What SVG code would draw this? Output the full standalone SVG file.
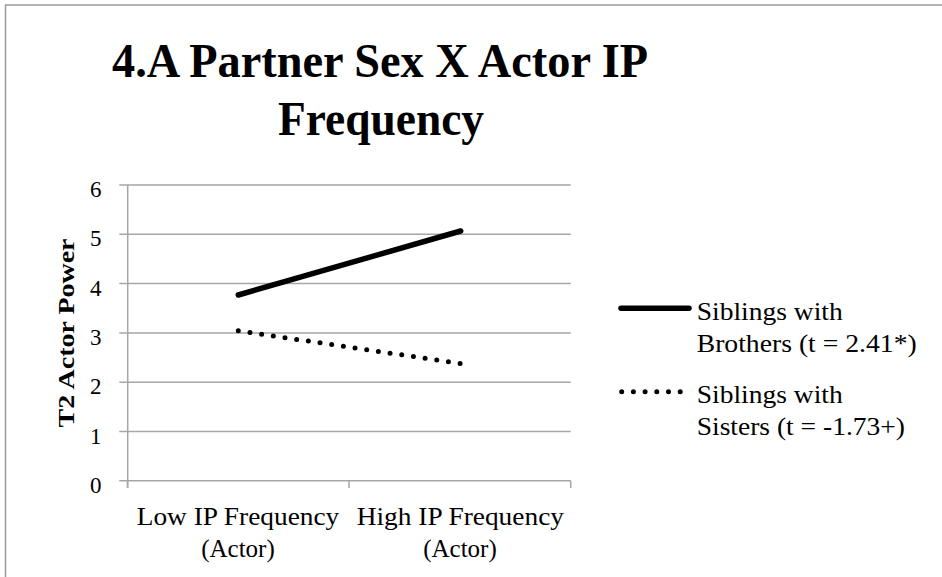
<svg xmlns="http://www.w3.org/2000/svg" width="942" height="577" viewBox="0 0 942 577">
  <style>
    .frame { fill: #ffffff; stroke: #9a9a9a; stroke-width: 1.5; }
    .grid { stroke: #a6a6a6; stroke-width: 1.5; fill: none; }
    .axis { stroke: #a6a6a6; stroke-width: 1.5; fill: none; }
    .title { font-family: "Liberation Serif", "DejaVu Serif", serif; font-weight: bold; font-size: 48px; fill: #000; }
    .ytitle { font-family: "Liberation Serif", "DejaVu Serif", serif; font-weight: bold; font-size: 24px; fill: #000; }
    .tick { font-family: "Liberation Serif", "DejaVu Serif", serif; font-size: 23px; fill: #000; }
    .cat { font-family: "Liberation Serif", "DejaVu Serif", serif; font-size: 25px; fill: #000; }
    .leg { font-family: "Liberation Serif", "DejaVu Serif", serif; font-size: 25px; fill: #000; }
    .solid { stroke: #000; stroke-width: 5.5; stroke-linecap: round; fill: none; }
    .dotted { stroke: #000; stroke-width: 5; stroke-linecap: round; stroke-dasharray: 0 11.8; fill: none; }
  </style>

  <!-- chart area -->
  <rect width="942" height="577" fill="#ffffff"/>
  <rect class="frame" x="5.5" y="5" width="960" height="600"/>

  <!-- chart title -->
  <g id="chart-title">
    <text class="title" x="112" y="77" textLength="536" lengthAdjust="spacingAndGlyphs">4.A Partner Sex X Actor IP</text>
    <text class="title" x="278" y="135" textLength="206" lengthAdjust="spacingAndGlyphs">Frequency</text>
  </g>

  <!-- horizontal gridlines and value axis -->
  <g id="value-axis">
    <line class="grid" x1="119.3" y1="185" x2="570.7" y2="185"/>
    <line class="grid" x1="119.3" y1="234.3" x2="570.7" y2="234.3"/>
    <line class="grid" x1="119.3" y1="283.6" x2="570.7" y2="283.6"/>
    <line class="grid" x1="119.3" y1="332.9" x2="570.7" y2="332.9"/>
    <line class="grid" x1="119.3" y1="382.2" x2="570.7" y2="382.2"/>
    <line class="grid" x1="119.3" y1="431.5" x2="570.7" y2="431.5"/>
    <line class="axis" x1="127.7" y1="185" x2="127.7" y2="488"/>
    <text class="tick" text-anchor="end" x="101.5" y="197">6</text>
    <text class="tick" text-anchor="end" x="101.5" y="246.3">5</text>
    <text class="tick" text-anchor="end" x="101.5" y="295.6">4</text>
    <text class="tick" text-anchor="end" x="101.5" y="344.9">3</text>
    <text class="tick" text-anchor="end" x="101.5" y="394.2">2</text>
    <text class="tick" text-anchor="end" x="101.5" y="443.5">1</text>
    <text class="tick" text-anchor="end" x="101.5" y="492.8">0</text>
    <text class="ytitle" transform="translate(73.5 333) rotate(-90)" text-anchor="middle" textLength="189" lengthAdjust="spacingAndGlyphs">T2 Actor Power</text>
  </g>

  <!-- category axis -->
  <g id="category-axis">
    <line class="axis" x1="119.3" y1="480.8" x2="570.7" y2="480.8"/>
    <line class="axis" x1="127.5" y1="480.8" x2="127.5" y2="488"/>
    <line class="axis" x1="349" y1="480.8" x2="349" y2="488"/>
    <line class="axis" x1="570.7" y1="480.8" x2="570.7" y2="488"/>
    <text class="cat" x="136.7" y="525" textLength="202.6" lengthAdjust="spacingAndGlyphs">Low IP Frequency</text>
    <text class="cat" x="238" y="557" text-anchor="middle">(Actor)</text>
    <text class="cat" x="356.7" y="525" textLength="207.3" lengthAdjust="spacingAndGlyphs">High IP Frequency</text>
    <text class="cat" x="460" y="557" text-anchor="middle">(Actor)</text>
  </g>

  <!-- data series -->
  <g id="connectors">
    <line id="series-brothers" class="solid" x1="238.3" y1="295" x2="460.7" y2="231"/>
    <line id="series-sisters" class="dotted" x1="238.3" y1="330.8" x2="460.3" y2="363.5"/>
  </g>

  <!-- legend -->
  <g id="legend-brothers">
    <line class="solid" x1="621" y1="308.3" x2="689" y2="308.3"/>
    <text class="leg" x="696.7" y="320" textLength="146" lengthAdjust="spacingAndGlyphs">Siblings with</text>
    <text class="leg" x="696.7" y="351.7" textLength="220" lengthAdjust="spacingAndGlyphs">Brothers (t = 2.41*)</text>
  </g>
  <g id="legend-sisters">
    <line class="dotted" x1="621.7" y1="391.7" x2="681" y2="391.7" style="stroke-dasharray: 0 11.7"/>
    <text class="leg" x="696.7" y="403.3" textLength="146" lengthAdjust="spacingAndGlyphs">Siblings with</text>
    <text class="leg" x="696.7" y="435" textLength="208.3" lengthAdjust="spacingAndGlyphs">Sisters (t = -1.73+)</text>
  </g>
</svg>
